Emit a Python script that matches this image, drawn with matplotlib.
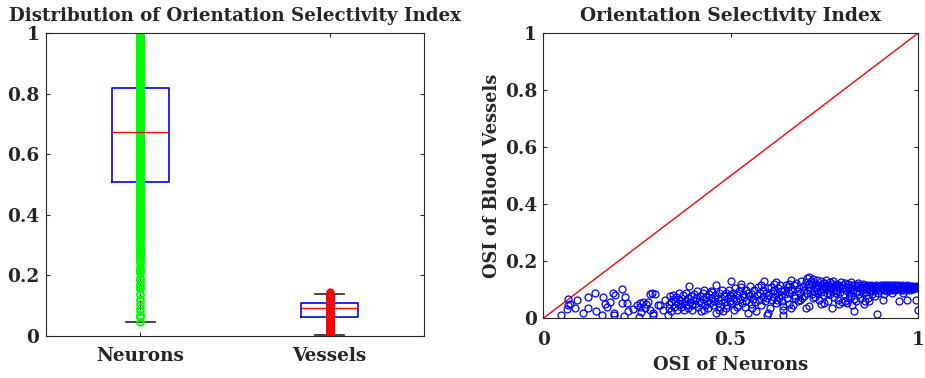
import numpy as np
import matplotlib.pyplot as plt

# OSI pairs (neuron, vessel)
neuron_osi = [
    0.046, 0.064, 0.065, 0.067, 0.071, 0.084, 0.091, 0.105, 0.12, 0.12,
    0.138, 0.14, 0.156, 0.16, 0.164, 0.169, 0.178, 0.187, 0.189, 0.189,
    0.192, 0.209, 0.211, 0.215, 0.218, 0.222, 0.227, 0.24, 0.249, 0.255,
    0.258, 0.262, 0.267, 0.271, 0.28, 0.284, 0.284, 0.289, 0.292, 0.298,
    0.307, 0.311, 0.258, 0.293, 0.275, 0.32, 0.325,
    0.332, 0.335, 0.338, 0.342, 0.347, 0.335, 0.34, 0.345, 0.35, 0.352,
    0.355, 0.358, 0.36, 0.362, 0.365, 0.367, 0.37, 0.372, 0.375, 0.377,
    0.38, 0.382, 0.385, 0.387, 0.39, 0.392, 0.395, 0.397, 0.4, 0.398,
    0.402, 0.405, 0.407, 0.41, 0.412, 0.415, 0.418, 0.42, 0.422, 0.425,
    0.427, 0.43, 0.432, 0.435, 0.437, 0.44, 0.442, 0.445, 0.447, 0.45,
    0.452, 0.455, 0.457, 0.46, 0.462, 0.465, 0.467, 0.47, 0.472, 0.475,
    0.477, 0.48, 0.482, 0.485, 0.487, 0.49, 0.492, 0.495, 0.497, 0.5,
    0.498, 0.488, 0.468, 0.448, 0.428,
    0.502, 0.505, 0.507, 0.51, 0.512, 0.515, 0.517, 0.52, 0.522, 0.525,
    0.527, 0.53, 0.532, 0.535, 0.537, 0.54, 0.542, 0.545, 0.547, 0.55,
    0.552, 0.555, 0.557, 0.56, 0.562, 0.565, 0.567, 0.57, 0.572, 0.575,
    0.577, 0.58, 0.582, 0.585, 0.587, 0.59, 0.592, 0.595, 0.596, 0.598,
    0.6, 0.6, 0.558, 0.528, 0.518,
    0.602, 0.605, 0.607, 0.61, 0.612, 0.615, 0.617, 0.62, 0.622, 0.625,
    0.627, 0.63, 0.632, 0.635, 0.637, 0.64, 0.64, 0.64, 0.642, 0.645,
    0.647, 0.65, 0.652, 0.655, 0.657, 0.66, 0.662, 0.664, 0.666, 0.668,
    0.67, 0.672, 0.675, 0.677, 0.68, 0.682, 0.685, 0.687, 0.69, 0.692,
    0.695, 0.697, 0.7, 0.702, 0.703, 0.705, 0.706, 0.708, 0.709, 0.71,
    0.655, 0.635, 0.625, 0.615, 0.685,
    0.712, 0.714, 0.716, 0.718, 0.72, 0.722, 0.724, 0.726, 0.728, 0.73,
    0.732, 0.734, 0.736, 0.738, 0.74, 0.742, 0.744, 0.746, 0.748, 0.75,
    0.752, 0.754, 0.756, 0.758, 0.76, 0.762, 0.764, 0.766, 0.768, 0.77,
    0.772, 0.774, 0.776, 0.778, 0.78, 0.782, 0.784, 0.786, 0.788, 0.79,
    0.792, 0.794, 0.796, 0.798, 0.8, 0.802, 0.804, 0.806, 0.808, 0.81,
    0.72, 0.74, 0.76, 0.78, 0.73, 0.75, 0.77, 0.79, 0.745, 0.765,
    0.812, 0.814, 0.816, 0.818, 0.82, 0.822, 0.824, 0.826, 0.828, 0.83,
    0.832, 0.834, 0.835, 0.838, 0.84, 0.842, 0.844, 0.846, 0.848, 0.85,
    0.852, 0.854, 0.856, 0.858, 0.86, 0.862, 0.864, 0.866, 0.868, 0.87,
    0.872, 0.874, 0.876, 0.878, 0.88, 0.882, 0.884, 0.886, 0.888, 0.89,
    0.892, 0.894, 0.896, 0.898, 0.9, 0.84, 0.86, 0.88, 0.82, 0.85,
    0.87, 0.89, 0.815, 0.825, 0.855,
    0.902, 0.904, 0.906, 0.908, 0.91, 0.912, 0.914, 0.916, 0.918, 0.92,
    0.922, 0.924, 0.926, 0.928, 0.93, 0.932, 0.934, 0.936, 0.938, 0.94,
    0.942, 0.944, 0.946, 0.948, 0.95, 0.952, 0.954, 0.956, 0.958, 0.96,
    0.962, 0.964, 0.966, 0.968, 0.97, 0.972, 0.974, 0.976, 0.978, 0.98,
    0.982, 0.984, 0.986, 0.988, 0.99, 0.992, 0.994, 0.996, 0.998, 1.0,
    1.0, 1.0, 0.93, 0.96, 0.91,
]
vessel_osi = [
    0.012, 0.032, 0.068, 0.047, 0.05, 0.035, 0.064, 0.02, 0.074, 0.035,
    0.09, 0.027, 0.012, 0.073, 0.05, 0.041, 0.058, 0.09, 0.02, 0.012,
    0.082, 0.055, 0.102, 0.008, 0.073, 0.055, 0.027, 0.032, 0.047, 0.006,
    0.053, 0.023, 0.058, 0.035, 0.058, 0.084, 0.029, 0.088, 0.018, 0.085,
    0.047, 0.047, 0.04, 0.013, 0.05, 0.03, 0.065,
    0.012, 0.035, 0.078, 0.058, 0.082, 0.05, 0.025, 0.068, 0.04, 0.06,
    0.075, 0.03, 0.05, 0.088, 0.065, 0.04, 0.055, 0.08, 0.03, 0.062,
    0.048, 0.09, 0.07, 0.035, 0.112, 0.058, 0.078, 0.045, 0.065, 0.028,
    0.085, 0.05, 0.07, 0.095, 0.04, 0.06, 0.078, 0.025, 0.052, 0.088,
    0.068, 0.1, 0.045, 0.075, 0.06, 0.036, 0.085, 0.055, 0.07, 0.092,
    0.048, 0.062, 0.08, 0.02, 0.116, 0.072, 0.055, 0.088, 0.04, 0.065,
    0.098, 0.025, 0.078, 0.058, 0.09, 0.045, 0.07, 0.1, 0.062, 0.13,
    0.082, 0.035, 0.03, 0.095, 0.03,
    0.052, 0.09, 0.07, 0.03, 0.105, 0.06, 0.08, 0.045, 0.095, 0.068,
    0.11, 0.055, 0.085, 0.075, 0.04, 0.1, 0.062, 0.09, 0.019, 0.078,
    0.112, 0.05, 0.085, 0.068, 0.098, 0.058, 0.025, 0.08, 0.108, 0.065,
    0.09, 0.045, 0.118, 0.075, 0.1, 0.13, 0.06, 0.088, 0.013, 0.07,
    0.019, 0.105, 0.035, 0.12, 0.038,
    0.082, 0.036, 0.11, 0.065, 0.095, 0.075, 0.12, 0.127, 0.055, 0.088,
    0.105, 0.07, 0.115, 0.08, 0.06, 0.013, 0.028, 0.042, 0.098, 0.085,
    0.118, 0.072, 0.108, 0.09, 0.05, 0.136, 0.036, 0.1, 0.048, 0.082,
    0.115, 0.07, 0.125, 0.095, 0.06, 0.105, 0.088, 0.132, 0.07, 0.112,
    0.098, 0.078, 0.128, 0.036, 0.09, 0.14, 0.108, 0.042, 0.12, 0.144,
    0.122, 0.095, 0.065, 0.1, 0.065,
    0.1, 0.13, 0.085, 0.115, 0.138, 0.095, 0.075, 0.125, 0.105, 0.136,
    0.088, 0.118, 0.065, 0.1, 0.13, 0.092, 0.112, 0.08, 0.124, 0.055,
    0.105, 0.135, 0.09, 0.118, 0.06, 0.1, 0.128, 0.085, 0.112, 0.036,
    0.095, 0.13, 0.075, 0.108, 0.122, 0.088, 0.1, 0.065, 0.118, 0.05,
    0.092, 0.128, 0.105, 0.058, 0.115, 0.085, 0.06, 0.125, 0.098, 0.055,
    0.07, 0.05, 0.115, 0.098, 0.11, 0.125, 0.12, 0.11, 0.103, 0.105,
    0.11, 0.122, 0.09, 0.105, 0.128, 0.078, 0.115, 0.1, 0.068, 0.025,
    0.118, 0.095, 0.06, 0.11, 0.125, 0.085, 0.105, 0.072, 0.115, 0.098,
    0.12, 0.088, 0.108, 0.062, 0.112, 0.092, 0.118, 0.07, 0.105, 0.06,
    0.1, 0.115, 0.085, 0.108, 0.095, 0.112, 0.078, 0.1, 0.118, 0.015,
    0.105, 0.09, 0.112, 0.1, 0.115, 0.115, 0.103, 0.106, 0.1, 0.11,
    0.112, 0.108, 0.07, 0.045, 0.05,
    0.105, 0.112, 0.065, 0.118, 0.1, 0.108, 0.115, 0.095, 0.11, 0.104,
    0.118, 0.1, 0.112, 0.107, 0.115, 0.098, 0.11, 0.104, 0.116, 0.1,
    0.108, 0.113, 0.102, 0.117, 0.062, 0.106, 0.112, 0.1, 0.115, 0.105,
    0.11, 0.098, 0.113, 0.107, 0.116, 0.065, 0.104, 0.11, 0.1, 0.112,
    0.106, 0.114, 0.103, 0.108, 0.111, 0.105, 0.065, 0.112, 0.108, 0.03,
    0.11, 0.105, 0.09, 0.088, 0.085,
]

# box summary as drawn (whisker low, q1, median, q3, whisker high)
groups = ['Neurons', 'Vessels']
whislo = [0.046, 0.004]
q1 = [0.51, 0.064]
med = [0.673, 0.0915]
q3 = [0.818, 0.109]
whishi = [1.0, 0.14]

plt.rcParams['font.family'] = 'DejaVu Serif'
plt.rcParams['font.weight'] = 'bold'
plt.rcParams['text.color'] = '#262626'
plt.rcParams['axes.labelcolor'] = '#262626'
plt.rcParams['xtick.color'] = '#262626'
plt.rcParams['ytick.color'] = '#262626'

fig = plt.figure(figsize=(9.25, 3.78), dpi=100)
ax1 = fig.add_axes([0.0494, 0.111, 0.4093, 0.801])
ax2 = fig.add_axes([0.5874, 0.158, 0.405, 0.754])

stats = []
for i in range(len(groups)):
    stats.append({'label': groups[i], 'whislo': whislo[i], 'q1': q1[i], 'med': med[i],
                  'q3': q3[i], 'whishi': whishi[i]})
ax1.bxp(stats, positions=[1, 2], widths=0.3, showfliers=False,
        boxprops=dict(color='blue', linewidth=1.2),
        medianprops=dict(color='red', linewidth=1),
        whiskerprops=dict(color='black', linewidth=0.8, linestyle='--'),
        capprops=dict(color='#262626', linewidth=1.2), capwidths=0.15)
ax1.plot(np.ones(len(neuron_osi)), neuron_osi, 'o', mfc='none', mec='#00ff00',
         ms=5, mew=1.2)
ax1.plot(np.full(len(vessel_osi), 2), vessel_osi, 'o', mfc='none', mec='red',
         ms=4.5, mew=1.4)
ax1.set_xlim(0.5, 2.5)
ax1.set_ylim(0, 1)
ax1.set_yticks([0, 0.2, 0.4, 0.6, 0.8, 1])
ax1.set_yticklabels(['0', '0.2', '0.4', '0.6', '0.8', '1'])
ax1.set_xticks([1, 2])
ax1.set_xticklabels(groups)
t1 = ax1.set_title('Distribution of Orientation Selectivity Index', fontweight='bold', pad=8.5)

ax2.plot([0, 1], [0, 1], color='red', linewidth=1)
ax2.plot(neuron_osi, vessel_osi, 'o', mfc='none', mec='blue', ms=5, mew=0.9)
ax2.set_xlim(0, 1)
ax2.set_ylim(0, 1)
ax2.set_xticks([0, 0.5, 1])
ax2.set_xticklabels(['0', '0.5', '1'])
ax2.set_yticks([0, 0.2, 0.4, 0.6, 0.8, 1])
ax2.set_yticklabels(['0', '0.2', '0.4', '0.6', '0.8', '1'])
xl = ax2.set_xlabel('OSI of Neurons', fontweight='bold', labelpad=5.5)
yl = ax2.set_ylabel('OSI of Blood Vessels', fontweight='bold', labelpad=3)
t2 = ax2.set_title('Orientation Selectivity Index', fontweight='bold', pad=8.5)

for ax in [ax1, ax2]:
    ax.tick_params(direction='in', top=True, right=True, length=3, width=0.8,
                   labelsize=13)
    ax.tick_params(axis='y', pad=4.5)
    for s in ax.spines.values():
        s.set_color('#262626')
        s.set_linewidth(0.8)
ax1.tick_params(axis='x', pad=8)
ax2.tick_params(axis='x', pad=9)

# scale text so its length matches the reference (pixels)
fig.canvas.draw()
for txt, target in [(t1, 450), (t2, 300), (xl, 156), (yl, 204)]:
    bb = txt.get_window_extent()
    txt.set_fontsize(txt.get_fontsize() * target / max(bb.width, bb.height))
w = ax1.get_xticklabels()[0].get_window_extent().width
size = 13 * 88 / w
ax1.tick_params(labelsize=size)
ax2.tick_params(labelsize=size)

plt.savefig('out.png', dpi=100)
plt.close()
